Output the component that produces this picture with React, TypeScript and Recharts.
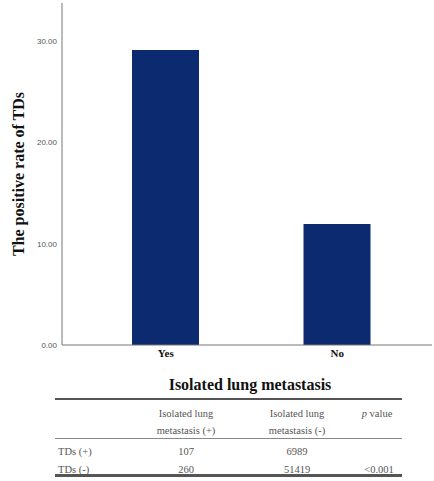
import React from 'react';
import { Bar, BarChart, Label, XAxis, YAxis } from 'recharts';

// Bar values: positive rate (%) of TDs by isolated lung metastasis status
const categories = ['Yes', 'No'];
const positiveRate = [29.16, 11.97];
const yTicks = [0, 10, 20, 30];

// Contingency table shown under the chart
const tableRowLabels = ['TDs (+)', 'TDs (-)'];
const metastasisPositive = [107, 260];
const metastasisNegative = [6989, 51419];
const pValueText = '<0.001';

const chartData = categories.map((name, i) => ({ name, rate: positiveRate[i] }));

const serif = '"Liberation Serif", "Times New Roman", serif';
const sans = '"Liberation Sans", Arial, sans-serif';
const barColor = '#0b2a6f';
const axisColor = '#777';
const tableText = '#555';

const YTitle = ({ viewBox }: any) => {
  const cy = viewBox.y + viewBox.height / 2;
  return (
    <text
      x={18}
      y={cy}
      transform={`rotate(-90, 18, ${cy})`}
      textAnchor="middle"
      dominantBaseline="central"
      style={{ fontFamily: serif, fontWeight: 'bold', fontSize: 16 }}
      fill="#111"
    >
      The positive rate of TDs
    </text>
  );
};

const XTitle = ({ viewBox }: any) => (
  <text
    x={viewBox.x + viewBox.width / 2 + 3}
    y={384}
    textAnchor="middle"
    dominantBaseline="central"
    style={{ fontFamily: serif, fontWeight: 'bold', fontSize: 16 }}
    fill="#111"
  >
    Isolated lung metastasis
  </text>
);

const colX = [186, 297, 377];

const SummaryTable = () => (
  <svg width={434} height={481} style={{ position: 'absolute', left: 0, top: 0, pointerEvents: 'none' }}>
    <g style={{ fontFamily: serif, fontSize: 10.5 }} fill={tableText} dominantBaseline="central">
      <line x1={55} x2={402} y1={399} y2={399} stroke="#555" strokeWidth={2} />
      <line x1={55} x2={402} y1={438.5} y2={438.5} stroke="#888" strokeWidth={1} />
      <line x1={55} x2={402} y1={475.5} y2={475.5} stroke="#555" strokeWidth={3} />

      <text x={colX[0]} y={413} textAnchor="middle">Isolated lung</text>
      <text x={colX[0]} y={430} textAnchor="middle">metastasis (+)</text>
      <text x={colX[1]} y={413} textAnchor="middle">Isolated lung</text>
      <text x={colX[1]} y={430} textAnchor="middle">metastasis (-)</text>
      <text x={colX[2]} y={413} textAnchor="middle">
        <tspan fontStyle="italic">p</tspan> value
      </text>

      {tableRowLabels.map((label, i) => {
        const y = 451 + i * 18;
        return (
          <g key={label}>
            <text x={58} y={y}>{label}</text>
            <text x={colX[0]} y={y} textAnchor="middle">{metastasisPositive[i]}</text>
            <text x={colX[1]} y={y} textAnchor="middle">{metastasisNegative[i]}</text>
            {i === tableRowLabels.length - 1 && (
              <text x={colX[2] + 2} y={y} textAnchor="middle">{pValueText}</text>
            )}
          </g>
        );
      })}
    </g>
  </svg>
);

export default function App() {
  return (
    <div style={{ position: 'absolute', left: 0, top: 0, width: 434, height: 481, background: '#fff' }}>
      <BarChart
        width={434}
        height={400}
        data={chartData}
        margin={{ top: 3, right: 2, left: 0, bottom: 0 }}
      >
        <XAxis
          dataKey="name"
          height={55}
          padding={{ left: 18, right: 9 }}
          axisLine={{ stroke: axisColor }}
          tickLine={false}
          tickSize={4}
          tickMargin={0}
          tick={{ style: { fontFamily: serif, fontWeight: 'bold', fontSize: 11 }, fill: '#111' }}
        >
          <Label content={<XTitle />} />
        </XAxis>
        <YAxis
          width={62}
          domain={[0, 33.8]}
          ticks={yTicks}
          allowDataOverflow
          axisLine={{ stroke: axisColor }}
          tickLine={false}
          tickSize={0}
          tickMargin={5}
          tickFormatter={(v: number) => v.toFixed(2)}
          tick={{ style: { fontFamily: sans, fontSize: 8 }, fill: '#555' }}
        >
          <Label content={<YTitle />} />
        </YAxis>
        <Bar dataKey="rate" fill={barColor} barSize={67} isAnimationActive={false} />
      </BarChart>
      <SummaryTable />
    </div>
  );
}
